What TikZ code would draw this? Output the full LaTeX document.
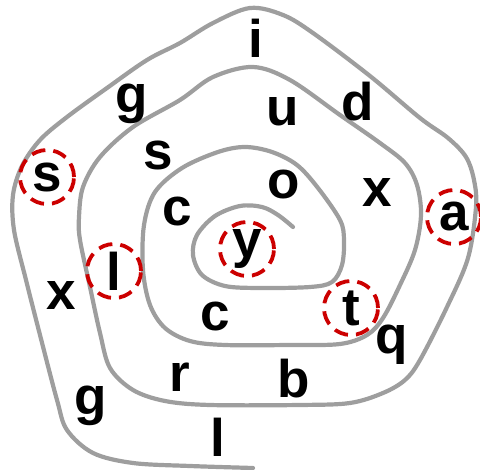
\documentclass[tikz,border=0pt]{standalone}
\usepackage{fontspec}
\setmainfont{Liberation Sans}
\usepackage{tikz}
\usetikzlibrary{shapes.geometric, positioning}
\definecolor{coilgray}{HTML}{9E9E9E}
\definecolor{pickred}{HTML}{CC0000}

\begin{document}
\begin{tikzpicture}[
    x=1pt, y=-1pt,
    letter/.style={inner sep=0pt, font=\bfseries\fontsize{53}{60}\selectfont},
    pick/.style={letter, circle, minimum size=54pt, draw=pickred, line width=3.8pt,
                 dash pattern=on 14pt off 8pt},
    coil/.style={draw=coilgray, line width=4.2pt, line cap=round, line join=round}
]
\useasboundingbox (0,0) rectangle (480,470);

% the spiral, from its inner end outwards
\draw[coil] plot[smooth, tension=0.55] coordinates {
    (293,227) (278,215) (262,207) (240,206) (215,216) (197,235) (193,255)
    (202,275) (225,286) (260,288) (310,287) (332,282) (342,265) (344,240) (340,220)
    (318,188) (297,165) (272,152) (245,147) (218,152) (182,168) (155,192)
    (144,225) (143,270) (150,305) (165,328) (190,341) (225,345) (290,345)
    (340,344) (367,335) (383,318)
    (400,285) (415,250) (421,215) (417,185) (405,163) (380,143) (340,115)
    (290,80) (253,67) (213,77) (180,100) (133,127) (100,157) (83,187) (79,217)
    (80,240) (90,287) (100,333) (110,368) (133,390) (165,401) (210,405) (300,405)
    (350,403) (383,393) (405,380) (420,360)
    (447,307) (468,258) (476,207) (474,180) (466,157) (448,138) (420,118)
    (370,76) (313,33) (283,15) (250,8) (213,23) (180,43) (147,60) (107,88) (67,117) (40,140)
    (22,166) (13,195) (14,230) (26,280) (40,335) (57,400) (67,430) (93,453) (133,463)
    (190,466) (253,468)};

% letters
\node[letter] (i)  at (256,38)  {i};
\node[letter] (g1) at (132,104) {g};
\node[letter] (d)  at (358,102) {d};
\node[letter] (u)  at (283,112) {u};
\node[pick]   (s1) at (47,177)  {s};
\node[letter] (s2) at (158,155) {s};
\node[letter] (o)  at (284,185) {o};
\node[letter] (x1) at (377,193) {x};
\node[pick]   (a)  at (454,217) {a};
\node[letter] (c1) at (177,212) {c};
\node[pick]   (y)  at (247,249) {y};
\node[pick]   (l1) at (114,271) {l};
\node[letter] (x2) at (61,296)  {x};
\node[pick]   (t)  at (351,308) {t};
\node[letter] (c2) at (215,317) {c};
\node[letter] (q)  at (392,345) {q};
\node[letter] (r)  at (180,377) {r};
\node[letter] (b)  at (294,379) {b};
\node[letter] (g2) at (91,406)  {g};
\node[letter] (l2) at (218,437) {l};
\end{tikzpicture}
\end{document}
